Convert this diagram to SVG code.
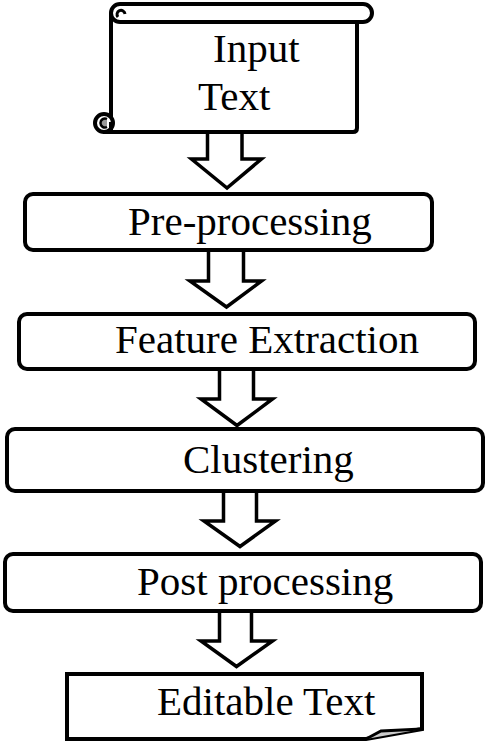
<svg xmlns="http://www.w3.org/2000/svg" width="488" height="742" viewBox="0 0 488 742">
<style>
.box{fill:#fff;stroke:#000;stroke-width:4}
.arr{fill:#fff;stroke:#000;stroke-width:3.5;stroke-linejoin:miter}
.t{font-family:"Liberation Serif","Times New Roman",serif;font-size:41px;fill:#000}
</style>
<rect width="488" height="742" fill="#fff"/>
<g id="connectors">
<path class="arr" d="M207.5,132 V159 H191.5 L227,188 L261.5,159 H242 V132"/>
<path class="arr" d="M208.5,252 V281 H190 L226.5,307 L261.5,281 H243.5 V252"/>
<path class="arr" d="M219.5,370 V399 H201 L237,425.5 L272.5,399 H253.5 V370"/>
<path class="arr" d="M223.5,492 V521 H204 L240,546.5 L275.5,521 H256.5 V492"/>
<path class="arr" d="M219.5,612 V641 H201 L236.5,666.5 L272.5,641 H251.5 V612"/>
</g>
<g id="input-text">
<path class="box" d="M111,13 V122 M103,132 H353 Q357,132 357,128 V22"/>
<path class="box" d="M120,4 H363 A9,9 0 0 1 363,22 H120 A9,9 0 0 1 120,4 Z"/>
<path d="M118,17 A4,4 0 1 1 125,14" fill="none" stroke="#000" stroke-width="3"/>
<circle cx="104" cy="123" r="9" class="box"/>
<path d="M107,119 A4.5,4.5 0 1 0 107,127" fill="#999" stroke="#000" stroke-width="2.5"/>
<path d="M111,122 V132 H103" fill="none" stroke="#000" stroke-width="4"/>
<text class="t" x="213" y="62">Input</text>
<text class="t" x="198" y="110">Text</text>
</g>
<g id="pre-processing">
<rect class="box" x="25" y="194" width="407" height="56" rx="8"/>
<text class="t" x="128" y="235">Pre-processing</text>
</g>
<g id="feature-extraction">
<rect class="box" x="19" y="314" width="456" height="55" rx="8"/>
<text class="t" x="115" y="353">Feature Extraction</text>
</g>
<g id="clustering">
<rect class="box" x="7" y="429" width="476" height="62" rx="8"/>
<text class="t" x="183" y="473">Clustering</text>
</g>
<g id="post-processing">
<rect class="box" x="5" y="554" width="476" height="57" rx="8"/>
<text class="t" x="137" y="595">Post processing</text>
</g>
<g id="editable-text">
<path class="box" d="M67,674 H422 V729 L366,739 H67 Z"/>
<path d="M366,739 L381,731 L422,729" fill="#ccc" stroke="#000" stroke-width="3"/>
<text class="t" x="157" y="715">Editable Text</text>
</g>
</svg>
